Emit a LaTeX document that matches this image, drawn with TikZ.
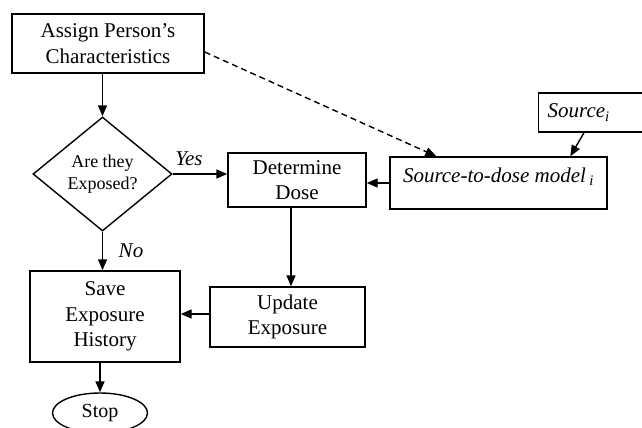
\documentclass[tikz,border=0pt]{standalone}
\usepackage{fontspec}
\setmainfont{Liberation Serif}
\usetikzlibrary{arrows.meta,shapes.geometric}
\tikzset{
  box/.style={draw, line width=1.4pt, rectangle, inner sep=0pt, align=center, font=\fontsize{21}{25.5}\selectfont},
  dec/.style={draw, line width=1.4pt, diamond, inner sep=0pt, align=center, font=\fontsize{18}{22}\selectfont},
  term/.style={draw, line width=1.4pt, ellipse, inner sep=0pt, font=\fontsize{20}{24}\selectfont},
  lbl/.style={inner sep=0pt, font=\fontsize{21}{25}\selectfont\itshape},
  arr/.style={line width=1.4pt, -{Triangle[length=11pt,width=9pt]}},
  dsh/.style={arr, dash pattern=on 6pt off 4pt}
}
\begin{document}
\begin{tikzpicture}[x=1pt,y=-1pt]
\clip (0,0) rectangle (642,428);
\fill[white] (0,0) rectangle (642,428);
\node[box, minimum width=192pt, minimum height=59pt] (assign) at (108,43.5) {Assign Person’s\\Characteristics};
\node[dec, minimum width=139pt, minimum height=114pt] (exp) at (102.5,174) {Are they\\Exposed?};
\node[box, minimum width=138pt, minimum height=54pt] (det) at (297,180) {Determine\\Dose};
\node[box, minimum width=217pt, text height=25pt, text depth=27pt] (model) at (498.5,183) {\itshape Source-to-dose model\,\textsubscript{i}};
\node[box, anchor=west, minimum height=39pt, text width=92pt, inner xsep=9pt, align=left] (src) at (538,112.5) {\itshape Source\textsubscript{i}};
\node[box, minimum width=155pt, minimum height=60pt] (upd) at (287.5,317) {Update\\Exposure};
\node[box, minimum width=150pt, minimum height=91pt] (save) at (105,316.5) {Save\\Exposure\\History};
\node[term, minimum width=95pt, minimum height=40pt] (stop) at (100,413) {Stop};
\node[lbl] (yes) at (189,159) {Yes};
\node[lbl] (no) at (131,251) {No};
\draw[arr] (assign.south -| exp.north) -- (exp.north);
\draw[dsh] ([yshift=-8.5pt]assign.east) -- ([xshift=47pt]model.north west);
\draw[arr] ([xshift=46pt]src.south west) -- ([xshift=181pt]model.north west);
\draw[arr] (exp.east) -- (exp.east -| det.west);
\draw[arr] (model.west) -- (model.west -| det.east);
\draw[arr] ([xshift=-6pt]det.south) -- ([xshift=-6pt]det.south |- upd.north);
\draw[arr] ([yshift=3pt]upd.west) -- ([yshift=3pt]upd.west -| save.east);
\draw[arr] (exp.south) -- (exp.south |- save.north);
\draw[arr] (stop.north |- save.south) -- (stop.north);
\end{tikzpicture}
\end{document}
